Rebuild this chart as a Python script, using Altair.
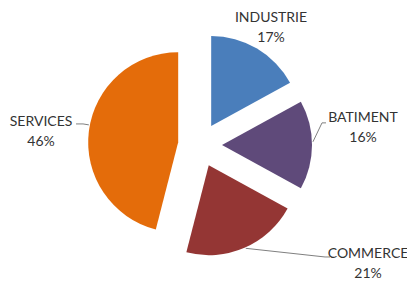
import math
import altair as alt
import pandas as pd

# ---- data ----
categories = ["INDUSTRIE", "BATIMENT", "COMMERCE", "SERVICES"]
shares = [17, 16, 21, 46]

# ---- style ----
colors = ["#4A7EBB", "#5F4A7A", "#943634", "#E46C0A"]
W, H = 399, 273
CX, CY = 192, 137        # pie centre (chart px)
R = 90                   # pie radius
EXPLODE = 22             # explosion distance
label_angle = [31.25, 84.0, 125.3, 274.7]     # degrees, clockwise from 12 o'clock
label_dist = [136.9, 163.9, 205.9, 159.5]
leader_start_angle = [None, 88.0, 156.0, 281.0]
leader_elbow = [None, (-41, -5), (-43, -7), (42, -8)]
leader_end = [None, (-37, -5), (-38, -7), (35, -8)]

total = sum(shares)
slices, labels, leaders = [], [], []
acc = 0.0
for i, (cat, v) in enumerate(zip(categories, shares)):
    t0 = acc / total * 2 * math.pi
    acc += v
    t1 = acc / total * 2 * math.pi
    mid = (t0 + t1) / 2
    cx = CX + EXPLODE * math.sin(mid)
    cy = CY - EXPLODE * math.cos(mid)
    slices.append({"cat": cat, "t0": t0, "t1": t1, "cx": cx, "cy": cy})
    la = math.radians(label_angle[i])
    lx = CX + label_dist[i] * math.sin(la)
    ly = CY - label_dist[i] * math.cos(la)
    labels.append({"cat": cat, "x": lx, "y": ly,
                   "label": f"{cat}\n{round(v / total * 100)}%"})
    if leader_start_angle[i] is not None:
        sa = math.radians(leader_start_angle[i])
        pts = [(cx + (R + 1) * math.sin(sa), cy - (R + 1) * math.cos(sa)),
               (lx + leader_elbow[i][0], ly + leader_elbow[i][1]),
               (lx + leader_end[i][0], ly + leader_end[i][1])]
        for k, (px, py) in enumerate(pts):
            leaders.append({"cat": cat, "k": k, "x": px, "y": py})

df_s = pd.DataFrame(slices)
df_l = pd.DataFrame(labels)
df_ld = pd.DataFrame(leaders)

pie = alt.Chart(df_s).mark_arc(outerRadius=R).encode(
    x=alt.X("cx:Q", scale=None, axis=None),
    y=alt.Y("cy:Q", scale=None, axis=None),
    theta=alt.Theta("t0:Q", scale=None, stack=None),
    theta2="t1:Q",
    color=alt.Color("cat:N", scale=alt.Scale(domain=categories, range=colors), legend=None),
)

lines = alt.Chart(df_ld).mark_line(color="#808080", strokeWidth=1).encode(
    x=alt.X("x:Q", scale=None, axis=None),
    y=alt.Y("y:Q", scale=None, axis=None),
    detail="cat:N",
    order="k:Q",
)

text = alt.Chart(df_l).mark_text(
    font="Lato", fontSize=14, color="#333333", lineBreak="\n", lineHeight=20,
    align="center", baseline="middle", dy=-10,
).encode(
    x=alt.X("x:Q", scale=None, axis=None),
    y=alt.Y("y:Q", scale=None, axis=None),
    text="label:N",
)

chart = alt.layer(pie, lines, text).properties(
    width=W, height=H, padding=0, autosize=alt.AutoSizeParams(type="none"),
).configure_view(stroke=None)

chart.save("out.html", embed_options={"renderer": "svg", "actions": False})
